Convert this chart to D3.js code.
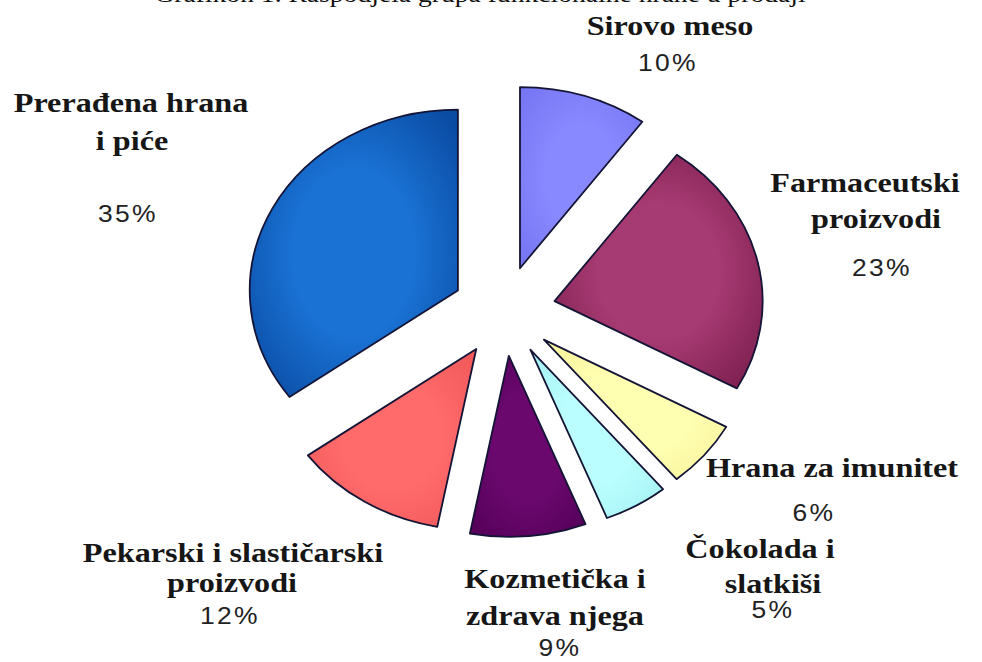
<!DOCTYPE html>
<html>
<head>
<meta charset="utf-8">
<script src="https://cdn.jsdelivr.net/npm/d3@7"></script>
<style>
  body { margin: 0; background: #fff; }
</style>
</head>
<body>
<svg id="chart" width="982" height="662"></svg>
<script>
const categories = ["Sirovo meso", "Farmaceutski proizvodi", "Hrana za imunitet", "Čokolada i slatkiši",
  "Kozmetička i zdrava njega", "Pekarski i slastičarski proizvodi", "Prerađena hrana i piće"];
const values = [10, 23, 6, 5, 9, 12, 35];
const nameLines = [["Sirovo meso"], ["Farmaceutski", "proizvodi"], ["Hrana za imunitet"], ["Čokolada i", "slatkiši"],
  ["Kozmetička i", "zdrava njega"], ["Pekarski i slastičarski", "proizvodi"], ["Prerađena hrana", "i piće"]];
const title = "Grafikon 1. Raspodjela grupa funkcionalne hrane u prodaji";

// layout (screen positions of label lines and percent text)
const labelPos = [
  { lines: [[670, 35]], pct: [668, 71] },
  { lines: [[865, 192], [876, 228]], pct: [882, 276] },
  { lines: [[832, 477]], pct: [814, 521] },
  { lines: [[760, 558], [773, 593]], pct: [773, 618] },
  { lines: [[555, 588], [555, 625]], pct: [560, 656] },
  { lines: [[233, 562], [232, 592]], pct: [230, 624] },
  { lines: [[131, 112], [132, 150]], pct: [128, 222] }
];

const fills = [
  ["#8888ff", "#7777f4"],
  ["#a63a72", "#7c1e4e"],
  ["#ffffb2", "#f8f49c"],
  ["#bafeff", "#a6f2f4"],
  ["#6a086e", "#56005a"],
  ["#ff6a6a", "#f25a5a"],
  ["#1a72d4", "#0a4ca4"]
];

const cx = 504, cy = 311, radius = 181, explode = 45, sx = 1.15;

const svg = d3.select('#chart');
const defs = svg.append('defs');

fills.forEach((f, i) => {
  const g = defs.append('radialGradient')
    .attr('id', 'grad' + i)
    .attr('cx', '50%').attr('cy', '50%').attr('r', '65%');
  g.append('stop').attr('offset', '0%').attr('stop-color', f[0]);
  g.append('stop').attr('offset', '45%').attr('stop-color', f[0]);
  g.append('stop').attr('offset', '100%').attr('stop-color', f[1]);
});

const pie = d3.pie().sort(null).value(d => d)(values);
const arc = d3.arc().innerRadius(0).outerRadius(radius);

const pieG = svg.append('g')
  .attr('transform', 'translate(' + cx + ',' + cy + ') scale(' + sx + ',1)');

pieG.selectAll('g.slice')
  .data(pie)
  .enter()
  .append('g')
  .attr('class', 'slice')
  .attr('transform', d => {
    const a = (d.startAngle + d.endAngle) / 2;
    return 'translate(' + explode * Math.sin(a) + ',' + (-explode * Math.cos(a)) + ')';
  })
  .append('path')
  .attr('d', arc)
  .attr('fill', (d, i) => 'url(#grad' + i + ')')
  .attr('stroke', '#141436')
  .attr('stroke-width', 1.8)
  .attr('stroke-linejoin', 'round')
  .attr('vector-effect', 'non-scaling-stroke');

// title, cut by the top edge as in the source image
svg.append('text')
  .attr('transform', 'translate(480,2) scale(' + sx + ',1)')
  .attr('text-anchor', 'middle')
  .style('font-family', '"Liberation Serif", "Times New Roman", serif')
  .style('font-size', '24px')
  .style('fill', '#111')
  .text(title);

// labels
labelPos.forEach((p, i) => {
  nameLines[i].forEach((line, j) => {
    svg.append('text')
      .attr('transform', 'translate(' + p.lines[j][0] + ',' + p.lines[j][1] + ') scale(' + sx + ',1)')
      .attr('text-anchor', 'middle')
      .style('font-family', '"Liberation Serif", "Times New Roman", serif')
      .style('font-weight', 'bold')
      .style('font-size', '28px')
      .style('fill', '#161616')
      .text(line);
  });
  svg.append('text')
    .attr('transform', 'translate(' + p.pct[0] + ',' + p.pct[1] + ') scale(' + sx + ',1)')
    .attr('text-anchor', 'middle')
    .style('font-family', '"Liberation Sans", Arial, sans-serif')
    .style('font-size', '23px')
    .style('letter-spacing', '2px')
    .style('fill', '#222')
    .text(values[i] + '%');
});
</script>
</body>
</html>
